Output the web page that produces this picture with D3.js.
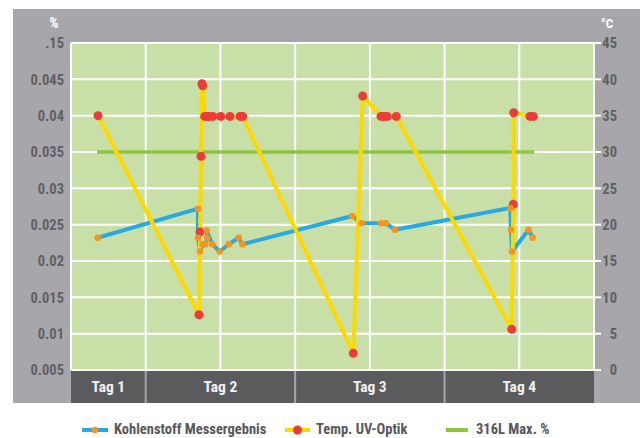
<!DOCTYPE html>
<html>
<head>
<meta charset="utf-8">
<script src="https://cdn.jsdelivr.net/npm/d3@7"></script>
<style>
  html, body { margin: 0; padding: 0; background: #ffffff; }
  svg { display: block; }
  text { font-family: "Liberation Sans Narrow", "Roboto Condensed", "DejaVu Sans Condensed", sans-serif; font-weight: bold; }
</style>
</head>
<body>
<svg id="chart" width="640" height="438"></svg>
<script>
// ---- data (x in column units of the chart's time axis) ----
const kohlenstoffX = [0.357, 1.700, 1.700, 1.727, 1.763, 1.798, 1.824, 1.816, 1.891, 1.990, 2.111, 2.245, 2.293, 3.765, 3.890, 4.149, 4.212, 4.337, 5.880, 5.889, 5.902, 6.125, 6.179];
const kohlenstoffY = [0.0232, 0.0272, 0.0232, 0.0213, 0.0223, 0.0223, 0.0232, 0.0242, 0.0223, 0.0213, 0.0223, 0.0232, 0.0223, 0.0262, 0.0252, 0.0252, 0.0252, 0.0243, 0.0273, 0.0243, 0.0213, 0.0243, 0.0232];

const tempX = [0.361, 1.713, 1.727, 1.740, 1.753, 1.763, 1.790, 1.824, 1.851, 1.897, 2.004, 2.128, 2.262, 2.298, 3.778, 3.904, 4.149, 4.189, 4.233, 4.354, 5.899, 5.920, 5.925, 6.143, 6.188];
const tempY = [35.0, 7.6, 19.0, 29.4, 39.4, 39.1, 34.9, 34.9, 34.9, 34.9, 34.9, 34.9, 34.9, 34.9, 2.3, 37.7, 34.9, 34.9, 34.9, 34.9, 5.6, 22.8, 35.4, 34.9, 34.9];

const maxX = [0.348, 6.198];
const maxY = [0.035, 0.035];

const leftTicks = [0.005, 0.01, 0.015, 0.02, 0.025, 0.03, 0.035, 0.04, 0.045, 0.05];
const leftTickLabels = ["0.005", "0.01", "0.015", "0.02", "0.025", "0.03", "0.035", "0.04", "0.045", ".15"];
const rightTicks = [0, 5, 10, 15, 20, 25, 30, 35, 40, 45];

const tagLabels = ["Tag 1", "Tag 2", "Tag 3", "Tag 4"];
const tagBounds = [0, 1, 3, 5, 7];
const gridX = [0, 1, 2, 3, 4, 5, 6, 7];

const seriesNames = ["Kohlenstoff Messergebnis", "Temp. UV-Optik", "316L Max. %"];

// ---- layout ----
const svg = d3.select("#chart");
const L = 71, R = 594, T = 43, B = 370;
const x = d3.scaleLinear().domain([0, 7]).range([L, R]);
const yL = d3.scaleLinear().domain([0.005, 0.05]).range([B, T]);
const yR = d3.scaleLinear().domain([0, 45]).range([B, T]);

const C = {
  panel: "#a7a7ab", plot: "#c8e0a7", band: "#5b5b5d",
  blue: "#27a9e1", orange: "#f7941d", yellow: "#ffd800", red: "#ed3b37", green: "#8dc63f",
  tick: "#606064"
};

// grey panel
svg.append("rect").attr("x", 13).attr("y", 9).attr("width", 627).attr("height", 394).attr("fill", C.panel);
// plot background
svg.append("rect").attr("x", L).attr("y", T).attr("width", R - L).attr("height", B - T).attr("fill", C.plot);

// gridlines
svg.append("g").selectAll("line").data(leftTicks).join("line")
  .attr("x1", L).attr("x2", R).attr("y1", d => yL(d)).attr("y2", d => yL(d))
  .attr("stroke", "#ffffff").attr("stroke-width", 2);
svg.append("g").selectAll("line").data(gridX).join("line")
  .attr("x1", d => x(d)).attr("x2", d => x(d)).attr("y1", T).attr("y2", B)
  .attr("stroke", "#ffffff").attr("stroke-width", 2);

// right axis tick marks
svg.append("g").selectAll("line").data(rightTicks).join("line")
  .attr("x1", R).attr("x2", R + 7).attr("y1", d => yR(d)).attr("y2", d => yR(d))
  .attr("stroke", "#ffffff").attr("stroke-width", 2);

// left tick labels
svg.append("g").selectAll("text").data(leftTicks).join("text")
  .attr("x", 64).attr("y", d => yL(d)).attr("dy", "0.36em")
  .attr("text-anchor", "end").attr("font-size", 14.5).attr("fill", C.tick)
  .text((d, i) => leftTickLabels[i]);
// right tick labels
svg.append("g").selectAll("text").data(rightTicks).join("text")
  .attr("x", 617).attr("y", d => yR(d)).attr("dy", "0.36em")
  .attr("text-anchor", "end").attr("font-size", 14.5).attr("fill", C.tick)
  .text(d => d);

// axis units
svg.append("text").attr("x", 54).attr("y", 28).attr("text-anchor", "middle")
  .attr("font-size", 14).attr("fill", "#ffffff").text("%");
svg.append("text").attr("x", 607).attr("y", 28).attr("text-anchor", "middle")
  .attr("font-size", 13).attr("fill", "#ffffff").text("°C");

// bottom day band
const band = svg.append("g");
band.selectAll("rect").data(tagLabels).join("rect")
  .attr("x", (d, i) => x(tagBounds[i]) + (i === 0 ? 0 : 1))
  .attr("width", (d, i) => x(tagBounds[i + 1]) - x(tagBounds[i]) - (i === 0 ? 1 : 2) + (i === 3 ? 1 : 0))
  .attr("y", B + 1).attr("height", 403 - B - 1).attr("fill", C.band);
band.selectAll("text").data(tagLabels).join("text")
  .attr("x", (d, i) => (x(tagBounds[i]) + x(tagBounds[i + 1])) / 2)
  .attr("y", 386).attr("dy", "0.36em").attr("text-anchor", "middle")
  .attr("font-size", 15.5).attr("fill", "#f0f0f0").text(d => d);

// series
const lineL = d3.line().x(d => x(d[0])).y(d => yL(d[1]));
const lineR = d3.line().x(d => x(d[0])).y(d => yR(d[1]));
const kData = kohlenstoffX.map((v, i) => [v, kohlenstoffY[i]]);
const tData = tempX.map((v, i) => [v, tempY[i]]);
const mData = maxX.map((v, i) => [v, maxY[i]]);

svg.append("path").datum(mData).attr("d", lineL).attr("fill", "none")
  .attr("stroke", C.green).attr("stroke-width", 3.5);
svg.append("path").datum(kData).attr("d", lineL).attr("fill", "none")
  .attr("stroke", C.blue).attr("stroke-width", 4).attr("stroke-linejoin", "round");
svg.append("path").datum(tData).attr("d", lineR).attr("fill", "none")
  .attr("stroke", C.yellow).attr("stroke-width", 4).attr("stroke-linejoin", "round");
svg.append("g").selectAll("circle").data(tData).join("circle")
  .attr("cx", d => x(d[0])).attr("cy", d => yR(d[1])).attr("r", 4.5).attr("fill", C.red);
svg.append("g").selectAll("circle").data(kData).join("circle")
  .attr("cx", d => x(d[0])).attr("cy", d => yL(d[1])).attr("r", 3.3).attr("fill", C.orange);

// legend
const lg = svg.append("g");
const legendItems = [
  { x1: 82, x2: 108, line: C.blue, dot: C.orange, r: 3.3, tx: 114 },
  { x1: 285, x2: 310, line: C.yellow, dot: C.red, r: 4.5, tx: 316 },
  { x1: 446, x2: 468, line: C.green, dot: null, r: 0, tx: 476 }
];
legendItems.forEach((it, i) => {
  lg.append("line").attr("x1", it.x1).attr("x2", it.x2).attr("y1", 430).attr("y2", 430)
    .attr("stroke", it.line).attr("stroke-width", 4);
  if (it.dot) lg.append("circle").attr("cx", (it.x1 + it.x2) / 2).attr("cy", 430).attr("r", it.r).attr("fill", it.dot);
  lg.append("text").attr("x", it.tx).attr("y", 428.5).attr("dy", "0.36em")
    .attr("font-size", 14.5).attr("fill", "#57585a").text(seriesNames[i]);
});
</script>
</body>
</html>
